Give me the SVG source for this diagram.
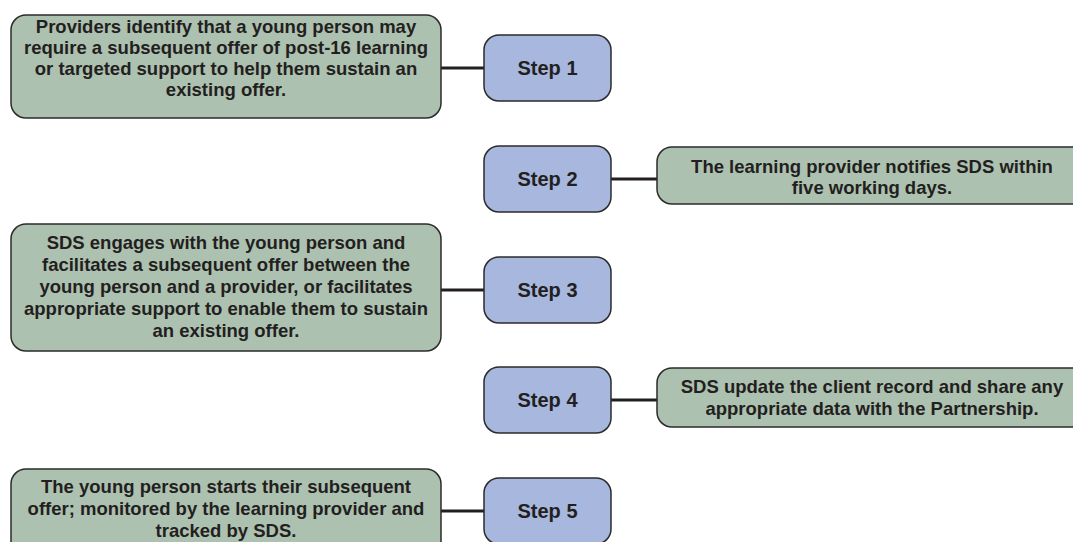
<svg xmlns="http://www.w3.org/2000/svg" width="1073" height="542" viewBox="0 0 1073 542">
<style>
.g{fill:#adc1b0;stroke:#2b2b2b;stroke-width:1.5}
.b{fill:#a7b7de;stroke:#2b2b2b;stroke-width:1.5}
.t{font-family:"Liberation Sans",Arial,sans-serif;font-weight:bold;font-size:18.5px;fill:#231f20;text-anchor:middle}
.s{font-size:20px}
.c{stroke:#231f20;stroke-width:3;fill:none}
</style>
<rect width="1073" height="542" fill="#ffffff"/>
<g id="connectors">
<line class="c" x1="441" y1="68" x2="484" y2="68"/>
<line class="c" x1="611" y1="179" x2="657" y2="179"/>
<line class="c" x1="441" y1="290" x2="484" y2="290"/>
<line class="c" x1="611" y1="400" x2="657" y2="400"/>
<line class="c" x1="441" y1="511" x2="484" y2="511"/>
</g>
<g id="box1">
<rect class="g" x="11" y="15" width="430" height="103" rx="15"/>
<text class="t"><tspan x="226" y="33">Providers identify that a young person may</tspan><tspan x="226" y="54">require a subsequent offer of post-16 learning</tspan><tspan x="226" y="75">or targeted support to help them sustain an</tspan><tspan x="226" y="96">existing offer.</tspan></text>
</g>
<g id="step1">
<rect class="b" x="484" y="35" width="127" height="66" rx="15"/>
<text class="t s" x="547.5" y="75">Step 1</text>
</g>
<g id="step2">
<rect class="b" x="484" y="146" width="127" height="66" rx="15"/>
<text class="t s" x="547.5" y="186">Step 2</text>
</g>
<g id="box2">
<rect class="g" x="657" y="147" width="430" height="57" rx="15"/>
<text class="t"><tspan x="872" y="173">The learning provider notifies SDS within</tspan><tspan x="872" y="194">five working days.</tspan></text>
</g>
<g id="box3">
<rect class="g" x="11" y="224" width="430" height="127" rx="15"/>
<text class="t"><tspan x="226" y="249">SDS engages with the young person and</tspan><tspan x="226" y="271">facilitates a subsequent offer between the</tspan><tspan x="226" y="293">young person and a provider, or facilitates</tspan><tspan x="226" y="315">appropriate support to enable them to sustain</tspan><tspan x="226" y="337">an existing offer.</tspan></text>
</g>
<g id="step3">
<rect class="b" x="484" y="257" width="127" height="66" rx="15"/>
<text class="t s" x="547.5" y="297">Step 3</text>
</g>
<g id="step4">
<rect class="b" x="484" y="367" width="127" height="66" rx="15"/>
<text class="t s" x="547.5" y="407">Step 4</text>
</g>
<g id="box4">
<rect class="g" x="657" y="368" width="430" height="59" rx="15"/>
<text class="t"><tspan x="872" y="393">SDS update the client record and share any</tspan><tspan x="872" y="415">appropriate data with the Partnership.</tspan></text>
</g>
<g id="box5">
<rect class="g" x="11" y="469" width="430" height="90" rx="15"/>
<text class="t"><tspan x="226" y="493">The young person starts their subsequent</tspan><tspan x="226" y="515">offer; monitored by the learning provider and</tspan><tspan x="226" y="537">tracked by SDS.</tspan></text>
</g>
<g id="step5">
<rect class="b" x="484" y="478" width="127" height="66" rx="15"/>
<text class="t s" x="547.5" y="518">Step 5</text>
</g>
</svg>
